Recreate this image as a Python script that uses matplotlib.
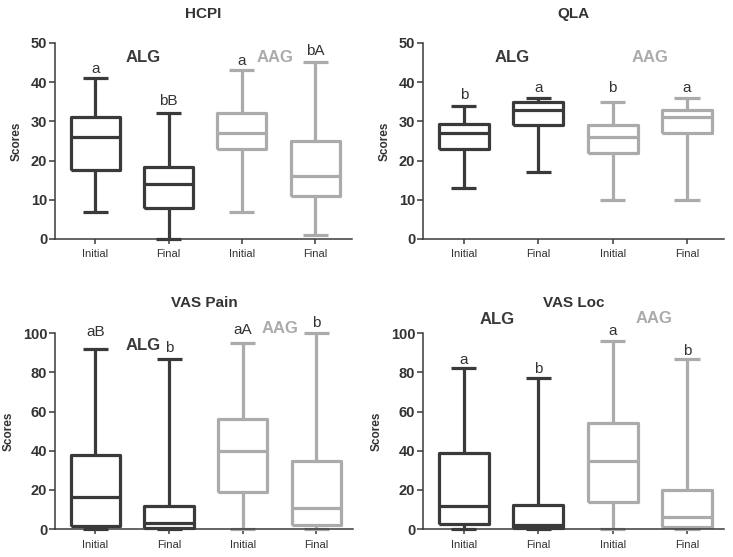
import matplotlib
matplotlib.use("Agg")
import matplotlib.pyplot as plt

plt.rcParams["font.family"] = ["Liberation Sans", "DejaVu Sans"]

DARK = "#3a3a3a"
LIGHT = "#ababab"

groups = ["Initial", "Final", "Initial", "Final"]
box_colors = [DARK, DARK, LIGHT, LIGHT]

# per panel: whisker low, q1, median, q3, whisker high
hcpi_lo = [7, 0, 7, 1]
hcpi_q1 = [17.5, 8, 23, 11]
hcpi_med = [26, 14, 27, 16]
hcpi_q3 = [31, 18.3, 32, 25]
hcpi_hi = [41, 32, 43, 45]
hcpi_letters = ["a", "bB", "a", "bA"]
hcpi_letter_y = [43.3, 35.2, 45.3, 48.0]

qla_lo = [13, 17, 10, 10]
qla_q1 = [23, 29, 22, 27]
qla_med = [27, 33, 26, 31]
qla_q3 = [29.3, 35, 29, 33]
qla_hi = [34, 36, 35, 36]
qla_letters = ["b", "a", "b", "a"]
qla_letter_y = [36.6, 38.4, 38.4, 38.4]

pain_lo = [0, 0, 0, 0]
pain_q1 = [1.5, 0.5, 19, 2]
pain_med = [16.5, 3, 40, 11]
pain_q3 = [38, 12, 56, 35]
pain_hi = [92, 87, 95, 100]
pain_letters = ["aB", "b", "aA", "b"]
pain_letter_y = [100.5, 92.5, 101.5, 105]

loc_lo = [0, 0, 0, 0]
loc_q1 = [2.5, 0.5, 14, 1]
loc_med = [12, 2, 35, 6]
loc_q3 = [39, 12.5, 54, 20]
loc_hi = [82, 77, 96, 87]
loc_letters = ["a", "b", "a", "b"]
loc_letter_y = [86.5, 81.5, 101, 91]

panels = [
    ("HCPI", [0.075, 0.571, 0.405, 0.352], 50, 10,
     (hcpi_lo, hcpi_q1, hcpi_med, hcpi_q3, hcpi_hi), hcpi_letters, hcpi_letter_y,
     (1.65, 46.4), (3.45, 46.4)),
    ("QLA", [0.577, 0.571, 0.411, 0.352], 50, 10,
     (qla_lo, qla_q1, qla_med, qla_q3, qla_hi), qla_letters, qla_letter_y,
     (1.65, 46.4), (3.5, 46.4)),
    ("VAS Pain", [0.075, 0.050, 0.407, 0.352], 100, 20,
     (pain_lo, pain_q1, pain_med, pain_q3, pain_hi), pain_letters, pain_letter_y,
     (1.65, 93.5), (3.5, 102.5)),
    ("VAS Loc", [0.577, 0.050, 0.411, 0.352], 100, 20,
     (loc_lo, loc_q1, loc_med, loc_q3, loc_hi), loc_letters, loc_letter_y,
     (1.45, 107), (3.55, 107.5)),
]

fig = plt.figure(figsize=(7.33, 5.57), dpi=100)

for title, rect, ymax, ystep, stats, letters, letter_y, alg_xy, aag_xy in panels:
    ax = fig.add_axes(rect)
    lo, q1, med, q3, hi = stats
    positions = [1, 2, 3, 4]
    for i in range(4):
        st = [{"whislo": lo[i], "q1": q1[i], "med": med[i], "q3": q3[i],
               "whishi": hi[i], "fliers": []}]
        c = box_colors[i]
        lw = 2.3
        art = ax.bxp(st, positions=[positions[i]], widths=0.67,
                     showfliers=False, manage_ticks=False,
                     boxprops=dict(color=c, linewidth=lw),
                     whiskerprops=dict(color=c, linewidth=lw),
                     capprops=dict(color=c, linewidth=lw),
                     medianprops=dict(color=c, linewidth=lw),
                     capwidths=0.34)
        for key in art:
            for a in art[key]:
                a.set_clip_on(False)
                a.set_solid_capstyle("butt")
        ax.text(positions[i], letter_y[i], letters[i], ha="center", va="center",
                fontsize=11, color="#333333")

    ax.text(alg_xy[0], alg_xy[1], "ALG", ha="center", va="center",
            fontsize=12, fontweight="bold", color=DARK)
    ax.text(aag_xy[0], aag_xy[1], "AAG", ha="center", va="center",
            fontsize=12, fontweight="bold", color=LIGHT)

    ax.set_xlim(0.45, 4.5)
    ax.set_ylim(0, ymax)
    ax.set_yticks(range(0, ymax + 1, ystep))
    ax.set_xticks(positions)
    ax.set_xticklabels(groups, fontsize=8)
    for lab in ax.get_yticklabels():
        lab.set_fontweight("bold")
        lab.set_fontsize(10.5)
    ax.tick_params(axis="y", direction="out", length=4, width=1.1, color=DARK,
                   labelcolor="#333333", pad=1.5)
    ax.tick_params(axis="x", direction="out", length=3.5, width=1.1, color=DARK,
                   labelcolor="#333333", pad=4)
    for s in ["top", "right"]:
        ax.spines[s].set_visible(False)
    for s in ["left", "bottom"]:
        ax.spines[s].set_linewidth(1.1)
        ax.spines[s].set_color(DARK)
    ax.set_ylabel("Scores", fontsize=8.5, fontweight="bold", color="#333333", labelpad=6)
    title_y = 1.0 + (29 / 196.0) if title in ("HCPI", "QLA") else 1.0 + (30 / 196.0)
    ax.text(0.5, title_y, title, transform=ax.transAxes, ha="center", va="center",
            fontsize=11, fontweight="bold", color="#333333")

fig.savefig("out.png", dpi=100)
